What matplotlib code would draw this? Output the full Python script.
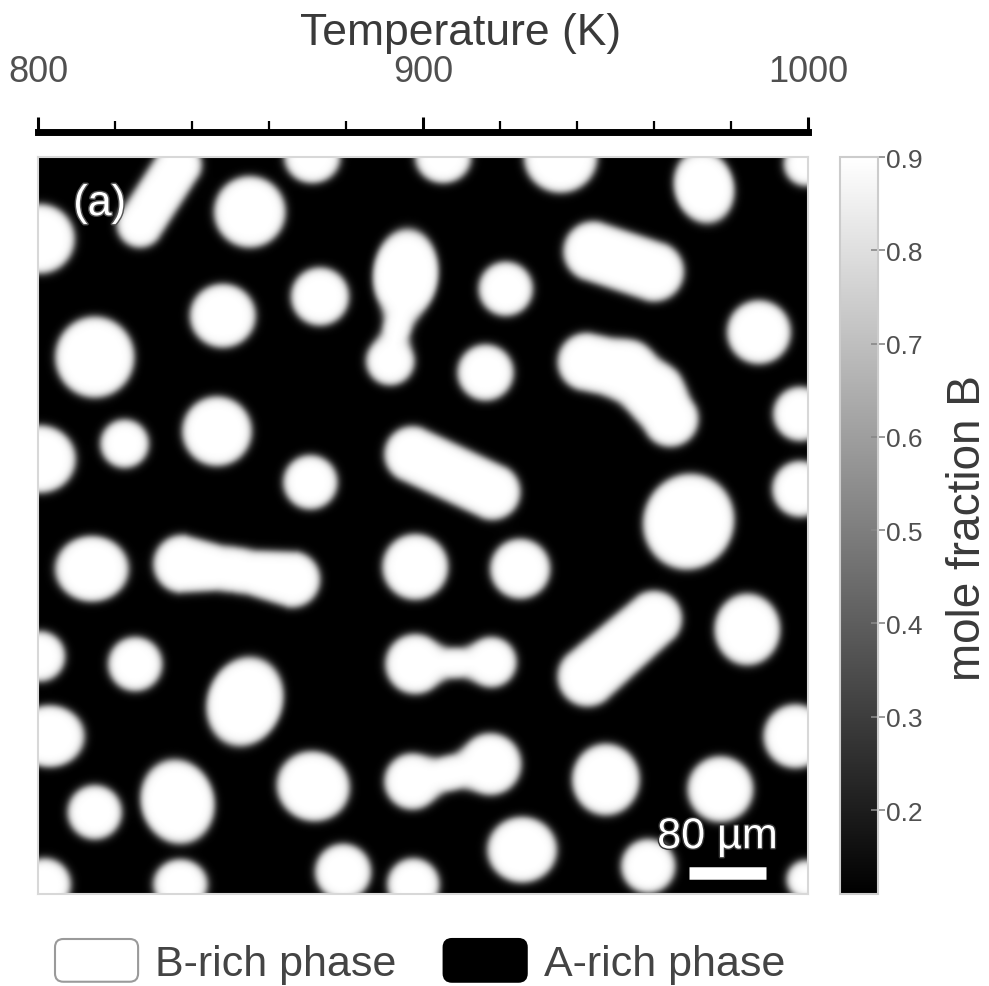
import numpy as np
import matplotlib
matplotlib.use("Agg")
import matplotlib.pyplot as plt
from matplotlib.patches import Patch, FancyBboxPatch
from matplotlib.legend_handler import HandlerPatch
import matplotlib.patheffects as pe

plt.rcParams['font.family'] = ['Liberation Sans', 'DejaVu Sans']

# --- simulation cell (micrometres) ---
cell_w, cell_h = 800.0, 766.0
c_matrix, c_precip = 0.11, 0.90      # mole fraction B in A-rich / B-rich phase
interface_w = 4.5                     # tanh half-width of the diffuse interface

# round / elliptical B-rich particles: centre x, centre y (from top), radii, tilt (deg)
ell_x = [2, 285, 220, 293, 192, 59, 382, 366, 186, 90, 2, 283,
         421, 543, 692, 798, 486, 749, 465, 792, 676, 792,
         56, 392, 2, 101, 215, 12, 59, 145, 286,
         501, 392, 471, 737, 787, 389, 470, 590, 709, 503, 634, 798,
         7, 148, 317, 390]
ell_y = [85, 0, 57, 145, 165, 208, 122, 212, 285, 298, 314, 338,
         0, 0, 31, 7, 137, 182, 224, 267, 379, 345,
         428, 426, 519, 527, 566, 602, 681, 670, 654,
         428, 527, 525, 491, 602, 649, 631, 647, 657, 720, 737, 751,
         756, 756, 743, 756]
ell_rx = [36, 29, 37, 30, 34, 41, 34, 25, 36, 25, 37, 28,
          29, 38, 31, 23, 28, 33, 29, 28, 47, 29,
          38, 34, 26, 28, 39, 36, 28, 38, 38,
          31, 31, 26, 34, 33, 29, 32, 35, 34, 36, 28, 20,
          27, 28, 29, 27]
ell_ry = [36, 27, 37, 30, 33, 42, 47, 25, 36, 25, 35, 28,
          27, 37, 38, 23, 28, 33, 29, 28, 50, 29,
          34, 34, 26, 28, 47, 32, 28, 44, 36,
          31, 31, 26, 37, 33, 29, 32, 37, 34, 34, 28, 20,
          27, 26, 29, 27]
ell_tilt = [0, 0, 0, 0, 0, 0, 5, 0, 0, 0, 0, 0,
            0, 0, -15, 0, 0, 0, 0, 0, 20, 0,
            0, 0, 0, 0, 20, 0, 0, -15, 20,
            0, 0, 0, 0, 0, 0, 0, 0, 0, 0, 0, 0,
            0, 0, 0, 0]

# elongated / coalescing particles as chains of (x, y, radius)
rod_paths = [
    [(106, 70, 24), (146, 8, 24)],
    [(380, 150, 17), (368, 198, 14)],
    [(577, 98, 31), (640, 119, 31)],
    [(570, 213, 30), (612, 222, 30), (640, 245, 30), (657, 272, 29)],
    [(389, 309, 29), (472, 348, 29)],
    [(150, 423, 30), (205, 429, 21), (264, 439, 29)],
    [(392, 527, 17), (471, 525, 15)],
    [(571, 540, 31), (640, 480, 29)],
    [(389, 649, 18), (470, 631, 19)],
]

temp_min, temp_max = 800, 1000
temp_major = [800, 900, 1000]
cbar_ticks = [0.2, 0.3, 0.4, 0.5, 0.6, 0.7, 0.8, 0.9]
scale_len = 80


def smin(a, b, k=6.0):
    h = np.clip(k - np.abs(a - b), 0, None) / k
    return np.minimum(a, b) - h * h * k / 4.0


xs = np.arange(0, cell_w) + 0.5
ys = np.arange(0, cell_h) + 0.5
X, Y = np.meshgrid(xs, ys)
sd = np.full(X.shape, 1e3)

for cx, cy, rx, ry, t in zip(ell_x, ell_y, ell_rx, ell_ry, ell_tilt):
    th = np.radians(t)
    dx, dy = X - cx, Y - cy
    u = dx * np.cos(th) + dy * np.sin(th)
    v = -dx * np.sin(th) + dy * np.cos(th)
    rho = np.hypot(u / rx, v / ry)
    sd = smin(sd, (rho - 1) * np.sqrt(rx * ry))

for path in rod_paths:
    for (x0, y0, r0), (x1, y1, r1) in zip(path[:-1], path[1:]):
        ex, ey = x1 - x0, y1 - y0
        s = np.clip(((X - x0) * ex + (Y - y0) * ey) / (ex * ex + ey * ey), 0, 1)
        d = np.hypot(X - x0 - s * ex, Y - y0 - s * ey) - (r0 + s * (r1 - r0))
        sd = smin(sd, d, k=10.0)

conc = c_matrix + (c_precip - c_matrix) * 0.5 * (1 - np.tanh(sd / interface_w))

W, H = 989, 987
fig = plt.figure(figsize=(W / 100, H / 100), dpi=100)

# microstructure map
ax = fig.add_axes([38 / W, 1 - 895 / H, 770 / W, 737 / H])
im = ax.imshow(conc, cmap='gray', vmin=c_matrix, vmax=c_precip,
               extent=[0, cell_w, cell_h, 0], interpolation='bilinear', aspect='auto')
ax.set_xticks([])
ax.set_yticks([])
for sp in ax.spines.values():
    sp.set_color('#d8d8d8')
    sp.set_linewidth(1.5)

ax.text(64, 49, '(a)', color='white', fontsize=31, ha='center', va='center',
        path_effects=[pe.withStroke(linewidth=2, foreground='#555555')])

# scale bar
bar_x0, bar_y = 676, 744
ax.plot([bar_x0, bar_x0 + scale_len], [bar_y, bar_y], color='white', lw=9,
        solid_capstyle='butt')
ax.text(bar_x0 + scale_len / 2 - 10, 707, '80 µm', color='white', fontsize=31,
        ha='center', va='center',
        path_effects=[pe.withStroke(linewidth=2, foreground='#333333')])

# temperature scale above the map
tax = fig.add_axes([38 / W, 1 - 133 / H, 770 / W, 0.0001])
tax.set_xlim(temp_min, temp_max)
tax.set_yticks([])
for name in ['left', 'right', 'bottom']:
    tax.spines[name].set_visible(False)
tax.spines['top'].set_linewidth(5)
tax.xaxis.tick_top()
tax.set_xticks(temp_major)
tax.set_xticks(np.arange(temp_min, temp_max + 1, 20), minor=True)
tax.tick_params(axis='x', which='major', length=11, width=2.2, pad=20,
                labelsize=26, labelcolor='#505050', color='black')
tax.tick_params(axis='x', which='minor', length=8, width=1.6, color='black')
fig.text(461 / W, 1 - 33 / H, 'Temperature (K)', fontsize=32, color='#3a3a3a',
         ha='center', va='center')

# colour bar
cax = fig.add_axes([840 / W, 1 - 895 / H, 38 / W, 737 / H])
cb = fig.colorbar(im, cax=cax)
cb.set_ticks(cbar_ticks)
cb.set_ticklabels([f'{t:.1f}' for t in cbar_ticks])
cb.outline.set_edgecolor('#cccccc')
cb.outline.set_linewidth(1.5)
cax.tick_params(axis='y', direction='inout', length=10, width=1.2, color='#888888',
                labelsize=19, labelcolor='#505050', pad=1)
fig.text(968 / W, 1 - 528 / H, 'mole fraction B', fontsize=33, color='#3a3a3a',
         rotation=90, ha='center', va='center')


def rounded_box(legend, orig_handle, xdescent, ydescent, width, height, fontsize):
    return FancyBboxPatch((-xdescent, -ydescent), width, height,
                          boxstyle='round,pad=0,rounding_size=6')


handles = [Patch(facecolor='white', edgecolor='#9a9a9a', linewidth=1.5),
           Patch(facecolor='black', edgecolor='black', linewidth=1.5)]
fig.legend(handles, ['B-rich phase', 'A-rich phase'], loc='upper left',
           bbox_to_anchor=(55 / W, 1 - 940 / H), ncol=2, frameon=False, fontsize=31,
           borderpad=0, borderaxespad=0,
           handlelength=1.93, handleheight=1.15, handletextpad=0.4,
           columnspacing=1.09, labelcolor='#444444',
           handler_map={Patch: HandlerPatch(patch_func=rounded_box)})

fig.savefig('out.png', dpi=100)
